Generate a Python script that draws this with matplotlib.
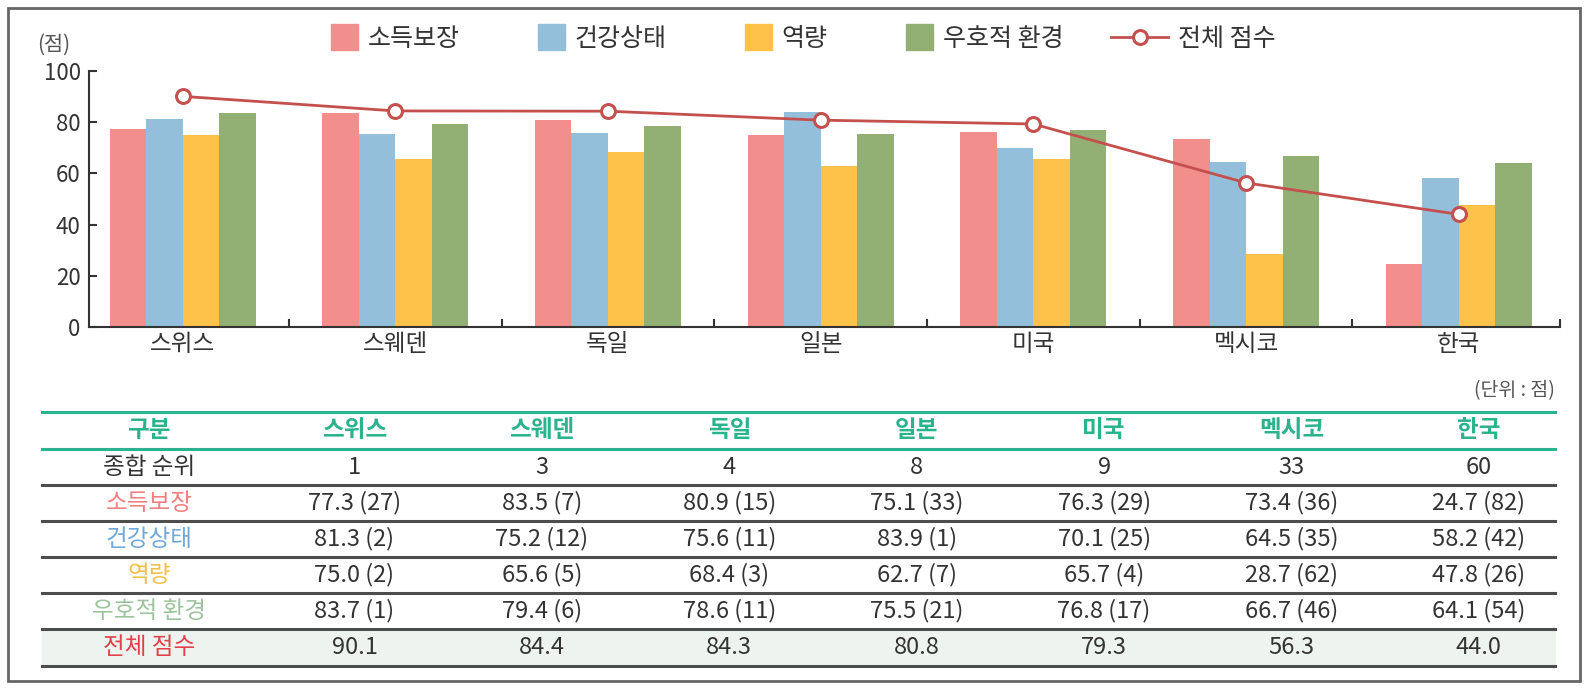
import numpy as np
import matplotlib.pyplot as plt
import matplotlib.patches as mpatches
from matplotlib.lines import Line2D
from matplotlib.legend_handler import HandlerPatch

plt.rcParams['font.family'] = ['Noto Sans CJK KR', 'DejaVu Sans']

countries = ['스위스', '스웨덴', '독일', '일본', '미국', '멕시코', '한국']
overall_rank = [1, 3, 4, 8, 9, 33, 60]
income = [77.3, 83.5, 80.9, 75.1, 76.3, 73.4, 24.7]
income_rank = [27, 7, 15, 33, 29, 36, 82]
health = [81.3, 75.2, 75.6, 83.9, 70.1, 64.5, 58.2]
health_rank = [2, 12, 11, 1, 25, 35, 42]
capacity = [75.0, 65.6, 68.4, 62.7, 65.7, 28.7, 47.8]
capacity_rank = [2, 5, 3, 7, 4, 62, 26]
environment = [83.7, 79.4, 78.6, 75.5, 76.8, 66.7, 64.1]
environment_rank = [1, 6, 11, 21, 17, 46, 54]
total = [90.1, 84.4, 84.3, 80.8, 79.3, 56.3, 44.0]

series_names = ['소득보장', '건강상태', '역량', '우호적 환경']
series_colors = ['#f28e8b', '#93bfdb', '#fec24b', '#93b074']
line_color = '#c4504e'
text_color = '#333333'

W, H = 1588, 688


def fx(px):
    return px / W


def fy(py):
    return 1 - py / H


fig = plt.figure(figsize=(W / 100, H / 100), dpi=100)

# outer frame
fig.add_artist(mpatches.Rectangle((fx(8), fy(681)), fx(1580) - fx(8), (681 - 8) / H,
                                  transform=fig.transFigure, fill=False,
                                  edgecolor='#666666', lw=2))

# --- bar chart ---
ax = fig.add_axes([fx(89), fy(327), fx(1560) - fx(89), (327 - 71) / H])
x = np.arange(len(countries))
w = 0.1715
values = [income, health, capacity, environment]
for i, (vals, name, col) in enumerate(zip(values, series_names, series_colors)):
    ax.bar(x + (i - 1.5) * w, vals, width=w, color=col, zorder=2)

line, = ax.plot(x, total, color=line_color, lw=2, marker='o', markersize=10,
                markerfacecolor='white', markeredgecolor=line_color, markeredgewidth=2.2,
                zorder=3, clip_on=False)

ax.set_xlim(-0.44, 6.476)
ax.set_ylim(0, 100)
ax.set_yticks([0, 20, 40, 60, 80, 100])
ax.set_xticks(x)
ax.set_xticklabels(countries, fontsize=17, color=text_color)
ax.set_xticks(list(np.arange(0.5, 6, 1.0)) + [6.476], minor=True)
ax.tick_params(axis='x', which='major', length=0, pad=4)
ax.tick_params(axis='x', which='minor', direction='in', length=6, width=1.5, color='#333333')
ax.tick_params(axis='y', direction='in', length=6, width=1.5, color='#333333',
               labelsize=16, labelcolor=text_color, pad=6)
for s in ['top', 'right']:
    ax.spines[s].set_visible(False)
for s in ['left', 'bottom']:
    ax.spines[s].set_color('#333333')
    ax.spines[s].set_linewidth(1.5)

fig.text(fx(37), fy(45), '(점)', fontsize=15, color='#555555', va='center', ha='left')


# legend with square patches
def square_patch(legend, orig_handle, xdescent, ydescent, width, height, fontsize):
    s = height * 1.5
    return mpatches.Rectangle((-xdescent + width - s, -ydescent + (height - s) / 2), s, s)


handles = [mpatches.Patch(color=c) for c in series_colors] + [line]
labels = series_names + ['전체 점수']
fig.legend(handles, labels, loc='center', bbox_to_anchor=(fx(788), fy(39)), ncol=5,
           frameon=False, fontsize=18, handlelength=2.3, handletextpad=0.4,
           columnspacing=1.9, labelcolor=text_color,
           handler_map={mpatches.Patch: HandlerPatch(patch_func=square_patch)})

# --- table ---
x0, x1 = 42, 1555
row_lines = [412, 449, 485, 521, 557, 593, 629, 666]
label_x = 149
col_x = [354.5 + 187.4 * i for i in range(len(countries))]
teal = '#2bb38e'
grid_col = '#4d4d4d'

fig.text(fx(1555), fy(391), '(단위 : 점)', fontsize=14, color='#555555', ha='right', va='center')

fig.add_artist(mpatches.Rectangle((fx(x0), fy(row_lines[7])), fx(x1) - fx(x0),
                                  (row_lines[7] - row_lines[6]) / H,
                                  transform=fig.transFigure, color='#edf3ee', zorder=0))

for k, yy in enumerate(row_lines):
    col = teal if k < 2 else grid_col
    fig.add_artist(Line2D([fx(x0), fx(x1)], [fy(yy), fy(yy)], transform=fig.transFigure,
                          color=col, lw=2.2))

rows = [
    ('구분', teal, countries),
    ('종합 순위', text_color, [str(r) for r in overall_rank]),
    ('소득보장', '#f07f80', [f'{v:.1f} ({r})' for v, r in zip(income, income_rank)]),
    ('건강상태', '#6fa9d8', [f'{v:.1f} ({r})' for v, r in zip(health, health_rank)]),
    ('역량', '#f4bf45', [f'{v:.1f} ({r})' for v, r in zip(capacity, capacity_rank)]),
    ('우호적 환경', '#9cc49c', [f'{v:.1f} ({r})' for v, r in zip(environment, environment_rank)]),
    ('전체 점수', '#e3404c', [f'{v:.1f}' for v in total]),
]

for k, (label, lcol, cells) in enumerate(rows):
    yc = (row_lines[k] + row_lines[k + 1]) / 2
    header = k == 0
    fig.text(fx(label_x), fy(yc), label, fontsize=17, color=lcol, ha='center', va='center',
             fontweight='bold' if header else 'normal')
    for cx, cell in zip(col_x, cells):
        fig.text(fx(cx), fy(yc), cell, fontsize=17, color=teal if header else text_color,
                 ha='center', va='center', fontweight='bold' if header else 'normal')

plt.savefig('out.png', dpi=100)
